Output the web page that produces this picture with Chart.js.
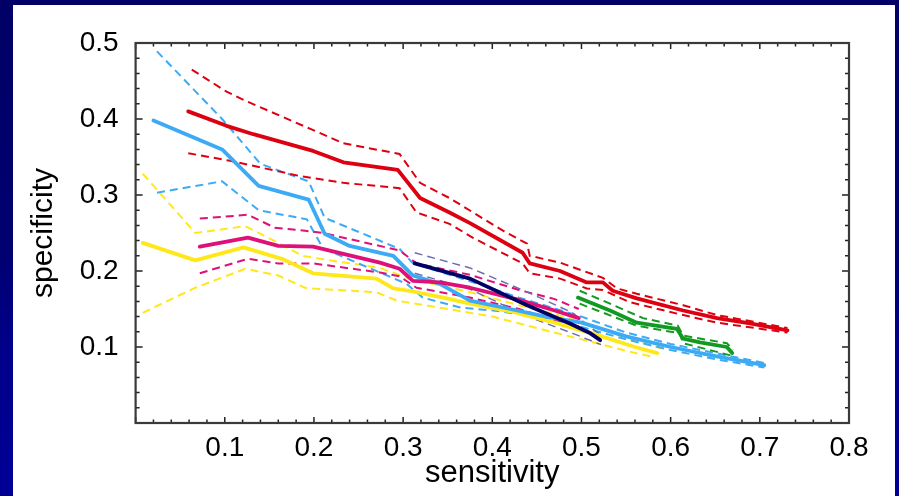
<!DOCTYPE html>
<html>
<head>
<meta charset="utf-8">
<script src="https://cdn.jsdelivr.net/npm/chart.js@4.4.1/dist/chart.umd.min.js"></script>
<style>
html,body{margin:0;padding:0;background:#000066;overflow:hidden;}
canvas{display:block;}
</style>
</head>
<body>
<canvas id="c" width="899" height="496"></canvas>
<script>
// ---- tick labels ----
const xTicks = [0.1, 0.2, 0.3, 0.4, 0.5, 0.6, 0.7, 0.8];
const yTicks = [0.1, 0.2, 0.3, 0.4, 0.5];

// ---- series: [sensitivity, specificity] ----
const redMid = [[0.059,0.410],[0.102,0.391],[0.132,0.380],[0.199,0.358],[0.233,0.343],[0.294,0.333],[0.319,0.296],[0.352,0.277],[0.375,0.263],[0.434,0.224],[0.442,0.210],[0.476,0.200],[0.506,0.185],[0.524,0.185],[0.535,0.174],[0.562,0.164],[0.614,0.148],[0.652,0.138],[0.689,0.131],[0.731,0.122]];
const redUp = [[0.063,0.465],[0.102,0.436],[0.125,0.423],[0.196,0.387],[0.233,0.368],[0.296,0.354],[0.319,0.316],[0.352,0.296],[0.412,0.253],[0.439,0.236],[0.442,0.220],[0.476,0.211],[0.524,0.191],[0.540,0.177],[0.562,0.170],[0.614,0.155],[0.652,0.142],[0.731,0.125]];
const redLow = [[0.059,0.355],[0.106,0.345],[0.184,0.325],[0.233,0.316],[0.296,0.309],[0.315,0.277],[0.352,0.262],[0.378,0.244],[0.434,0.210],[0.442,0.197],[0.476,0.190],[0.506,0.177],[0.524,0.175],[0.554,0.159],[0.614,0.142],[0.652,0.132],[0.731,0.119]];

const blueMid = [[0.020,0.398],[0.097,0.360],[0.138,0.312],[0.194,0.294],[0.212,0.249],[0.240,0.233],[0.289,0.220],[0.311,0.194],[0.341,0.183],[0.375,0.161],[0.420,0.150],[0.460,0.140],[0.500,0.132],[0.550,0.114],[0.600,0.100],[0.650,0.088],[0.705,0.076]];
const blueUp = [[0.024,0.489],[0.097,0.400],[0.140,0.341],[0.194,0.318],[0.212,0.270],[0.296,0.229],[0.311,0.210],[0.371,0.188],[0.430,0.165],[0.500,0.140],[0.550,0.119],[0.600,0.104],[0.650,0.092],[0.705,0.079]];
const blueLow = [[0.024,0.303],[0.097,0.318],[0.138,0.280],[0.192,0.268],[0.210,0.230],[0.304,0.183],[0.322,0.165],[0.364,0.152],[0.401,0.148],[0.450,0.140],[0.495,0.128],[0.550,0.110],[0.600,0.096],[0.650,0.084],[0.705,0.073]];

const yellowMid = [[0.008,0.237],[0.067,0.214],[0.121,0.231],[0.164,0.216],[0.199,0.197],[0.270,0.190],[0.289,0.177],[0.307,0.174],[0.345,0.165],[0.375,0.157],[0.420,0.147],[0.470,0.132],[0.520,0.115],[0.560,0.100],[0.585,0.092]];
const yellowUp = [[0.008,0.328],[0.067,0.250],[0.123,0.259],[0.160,0.237],[0.187,0.220],[0.207,0.216],[0.274,0.204],[0.307,0.190],[0.375,0.172],[0.430,0.155],[0.480,0.140],[0.520,0.125],[0.560,0.108],[0.590,0.098]];
const yellowLow = [[0.008,0.145],[0.067,0.178],[0.123,0.203],[0.160,0.194],[0.190,0.178],[0.199,0.177],[0.270,0.172],[0.293,0.161],[0.345,0.151],[0.400,0.140],[0.450,0.125],[0.500,0.110],[0.550,0.095],[0.580,0.087]];

const pinkMid = [[0.072,0.232],[0.126,0.244],[0.160,0.233],[0.199,0.232],[0.274,0.211],[0.296,0.203],[0.311,0.187],[0.341,0.185],[0.375,0.178],[0.430,0.162],[0.470,0.148],[0.497,0.138]];
const pinkUp = [[0.072,0.269],[0.126,0.274],[0.156,0.257],[0.190,0.253],[0.210,0.250],[0.296,0.227],[0.315,0.210],[0.375,0.195],[0.430,0.175],[0.470,0.163],[0.497,0.150]];
const pinkLow = [[0.072,0.197],[0.126,0.216],[0.160,0.210],[0.199,0.210],[0.274,0.198],[0.296,0.193],[0.315,0.178],[0.375,0.165],[0.430,0.150],[0.470,0.135],[0.497,0.128]];

const navyMid = [[0.313,0.210],[0.375,0.190],[0.439,0.155],[0.487,0.131],[0.510,0.118],[0.521,0.109]];
const navyUp = [[0.313,0.224],[0.375,0.204],[0.440,0.172],[0.490,0.145],[0.522,0.115]];
const navyLow = [[0.313,0.197],[0.375,0.176],[0.440,0.140],[0.490,0.118],[0.522,0.103]];

const greenMid = [[0.496,0.165],[0.532,0.148],[0.562,0.132],[0.607,0.124],[0.614,0.111],[0.633,0.106],[0.663,0.100],[0.669,0.092]];
const greenUp = [[0.498,0.174],[0.532,0.157],[0.569,0.138],[0.608,0.128],[0.614,0.115],[0.663,0.105],[0.670,0.096]];
const greenLow = [[0.498,0.157],[0.562,0.128],[0.610,0.118],[0.614,0.105],[0.667,0.089]];

const RED='#dd0011', BLUE='#3daaf5', YEL='#ffe81a', PINK='#dd1177', NAVY='#000066', NAVYD='#6a6ab0', GREEN='#119922';

function solid(data, color){ return {data, borderColor:color, borderWidth:3.8, pointRadius:0, tension:0, borderJoinStyle:'round', borderCapStyle:'round', fill:false}; }
function dashed(data, color, w){ return {data, borderColor:color, borderWidth:w||2.0, borderDash:[8,5], pointRadius:0, tension:0, fill:false}; }

const datasets = [
  solid(navyMid, NAVY),
  solid(redMid, RED), solid(greenMid, GREEN),
  solid(pinkMid, PINK), solid(blueMid, BLUE), solid(yellowMid, YEL),
  dashed(navyUp, NAVYD, 1.4), dashed(navyLow, NAVYD, 1.4),
  dashed(redUp, RED), dashed(redLow, RED),
  dashed(greenUp, GREEN), dashed(greenLow, GREEN),
  dashed(pinkUp, PINK), dashed(pinkLow, PINK),
  dashed(blueUp, BLUE), dashed(blueLow, BLUE),
  dashed(yellowUp, YEL), dashed(yellowLow, YEL)
];

const bgPlugin = {
  id:'bg',
  beforeDraw(chart){
    const {ctx, width, height} = chart;
    ctx.save();
    const g = ctx.createLinearGradient(0,0,0,height);
    g.addColorStop(0,'#000066'); g.addColorStop(0.5,'#000070'); g.addColorStop(0.7,'#00008a'); g.addColorStop(1,'#000096');
    ctx.fillStyle = g; ctx.fillRect(0,0,width,height);
    ctx.fillStyle = '#ffffff'; ctx.fillRect(13,5,882,height-5);
    ctx.restore();
  },
  afterDatasetsDraw(chart){
    const {ctx, chartArea:a, scales} = chart;
    ctx.save();
    ctx.strokeStyle = '#222'; ctx.lineWidth = 1.5;
    ctx.beginPath();
    for (let i=0;i<=40;i++){
      const v = i*0.02; const px = scales.x.getPixelForValue(v);
      const L = (i%5===0)?6:3.5;
      ctx.moveTo(px,a.bottom); ctx.lineTo(px,a.bottom-L);
      ctx.moveTo(px,a.top); ctx.lineTo(px,a.top+L);
    }
    for (let i=0;i<=25;i++){
      const v = i*0.02; const py = scales.y.getPixelForValue(v);
      const L = (i%5===0)?7:4;
      ctx.moveTo(a.left,py); ctx.lineTo(a.left+L,py);
      ctx.moveTo(a.right,py); ctx.lineTo(a.right-L,py);
    }
    ctx.stroke();
    ctx.strokeStyle = '#3a3a3a'; ctx.lineWidth = 2.2;
    ctx.strokeRect(a.left,a.top,a.right-a.left,a.bottom-a.top);
    ctx.restore();
  }
};

const FONT = 'Liberation Sans, Arial, Helvetica, sans-serif';
new Chart(document.getElementById('c'), {
  type:'line',
  data:{datasets},
  plugins:[bgPlugin],
  options:{
    responsive:false, animation:false, devicePixelRatio:1,
    layout:{padding:{left:13, top:43, right:50, bottom:0}},
    plugins:{legend:{display:false}, tooltip:{enabled:false}},
    scales:{
      x:{type:'linear', min:0, max:0.8,
        afterBuildTicks(s){ s.ticks = xTicks.map(v=>({value:v})); },
        afterFit(s){ s.height = 73; },
        grid:{display:false, drawTicks:false}, border:{display:false},
        ticks:{padding:8, color:'#000', autoSkip:false, maxRotation:0, font:{size:28, family:FONT}, callback:v=>Number(v).toFixed(1)},
        title:{display:true, text:'sensitivity', color:'#000', font:{size:31, family:FONT}, padding:{top:0,bottom:4}}
      },
      y:{type:'linear', min:0, max:0.5,
        afterBuildTicks(s){ s.ticks = yTicks.map(v=>({value:v})); },
        afterFit(s){ s.width = 122.6; },
        grid:{display:false, drawTicks:false}, border:{display:false},
        ticks:{padding:17, color:'#000', autoSkip:false, font:{size:28, family:FONT}, callback:v=>Number(v).toFixed(1)},
        title:{display:true, text:'specificity', color:'#000', font:{size:30, family:FONT}, padding:{top:13,bottom:0}}
      }
    }
  }
});
</script>
</body>
</html>
